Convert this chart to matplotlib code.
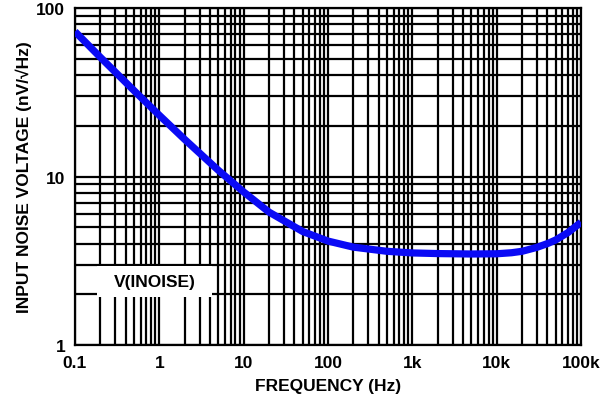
import numpy as np
from matplotlib import pyplot as plt
from matplotlib.patches import Rectangle
from matplotlib.ticker import LogLocator, NullFormatter

plt.rcParams['font.family'] = ['Liberation Sans', 'DejaVu Sans']
plt.rcParams['font.weight'] = 'bold'

# Curve
freq_hz = [0.1, 0.2, 0.5, 1, 2, 5, 10, 20, 50, 100, 200, 500,
           1e3, 2e3, 5e3, 1e4, 1.5e4, 2e4, 3e4, 4e4, 5e4, 7e4, 1e5]
noise_nv = [72.5, 51.0, 32.4, 23.1, 16.6, 10.9, 8.1, 6.15, 4.72, 4.14, 3.81, 3.6,
            3.52, 3.49, 3.47, 3.48, 3.53, 3.6, 3.8, 4.0, 4.2, 4.65, 5.35]

x_ticks = [0.1, 1, 10, 100, 1e3, 1e4, 1e5]
x_labels = ['0.1', '1', '10', '100', '1k', '10k', '100k']
y_ticks = [1, 10, 100]
y_labels = ['1', '10', '100']

fig = plt.figure(figsize=(6.14, 4.10), dpi=100)
ax = fig.add_axes([0.1221, 0.156, 0.8242, 0.822])

ax.set_xscale('log')
ax.set_yscale('log')
ax.set_xlim(0.1, 1e5)
ax.set_ylim(1, 100)

ax.set_axisbelow(True)
ax.xaxis.set_minor_locator(LogLocator(base=10, subs=np.arange(2, 10)))
ax.yaxis.set_minor_locator(LogLocator(base=10, subs=np.arange(2, 10)))
ax.xaxis.set_minor_formatter(NullFormatter())
ax.yaxis.set_minor_formatter(NullFormatter())
ax.grid(which='both', color='black', linewidth=1.6)

ax.plot(freq_hz, noise_nv, color='#0a0af5', linewidth=5.2,
        solid_capstyle='butt', zorder=3)

ax.set_xticks(x_ticks)
ax.set_xticklabels(x_labels)
ax.set_yticks(y_ticks)
ax.set_yticklabels(y_labels)
ax.tick_params(which='both', length=0, labelsize=12.5, pad=7)
for s in ax.spines.values():
    s.set_linewidth(1.6)

ax.set_xlabel('FREQUENCY (Hz)', fontsize=12.5, fontweight='bold', labelpad=6)
ax.set_ylabel('INPUT NOISE VOLTAGE (nV/\u221aHz)', fontsize=12.5,
              fontweight='bold', labelpad=3)

# label box
ax.add_patch(Rectangle((0.043, 0.142), 0.228, 0.092, transform=ax.transAxes,
                       facecolor='white', edgecolor='none', zorder=1))
ax.text(0.157, 0.188, 'V(INOISE)', transform=ax.transAxes, ha='center',
        va='center', fontsize=12.5, fontweight='bold', zorder=4)

fig.savefig('out.png', dpi=100)
